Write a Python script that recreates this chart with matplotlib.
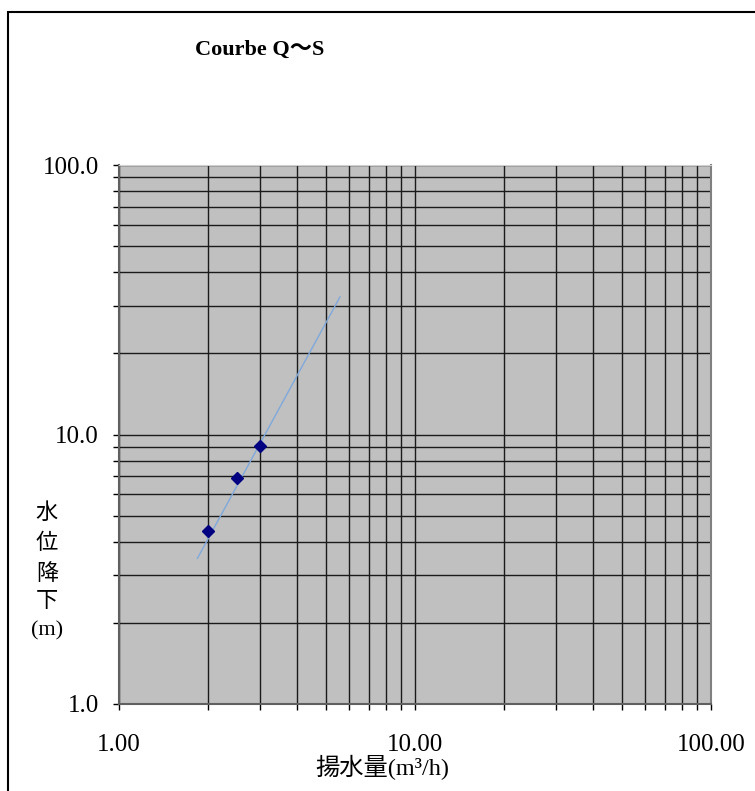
import matplotlib
matplotlib.use('Agg')
import matplotlib.pyplot as plt
from matplotlib.patches import Rectangle
from matplotlib.ticker import LogLocator, NullFormatter

# pumping rate (m3/h) vs drawdown (m)
q = [2.0, 2.5, 3.0]
s = [4.37, 6.87, 9.05]

# power trend line
trend_q = [1.84, 5.58]
trend_s = [3.47, 32.4]

x_ticks = [1, 10, 100]
x_labels = ['1.00', '10.00', '100.00']
y_ticks = [1, 10, 100]
y_labels = ['1.0', '10.0', '100.0']

serif = ['Liberation Serif', 'Noto Sans CJK JP']

fig = plt.figure(figsize=(7.55, 7.91), dpi=100)
W, H = 755, 791

# outer frame (only top and left visible in the picture)
fig.patches.append(Rectangle((8 / W, -0.1), 1.2, 1 - 12 / H + 0.1,
                             transform=fig.transFigure, fill=False,
                             edgecolor='black', linewidth=1.5))

ax = fig.add_axes([119 / W, 1 - 704 / H, (711 - 119) / W, (704 - 165) / H])
ax.set_facecolor('#c0c0c0')
ax.set_xscale('log')
ax.set_yscale('log')
ax.set_xlim(1, 100)
ax.set_ylim(1, 100)

ax.xaxis.set_minor_locator(LogLocator(base=10, subs=range(2, 10)))
ax.yaxis.set_minor_locator(LogLocator(base=10, subs=range(2, 10)))
ax.set_xticks(x_ticks)
ax.set_xticklabels(x_labels)
ax.set_yticks(y_ticks)
ax.set_yticklabels(y_labels)
ax.xaxis.set_minor_formatter(NullFormatter())
ax.yaxis.set_minor_formatter(NullFormatter())

ax.grid(True, which='both', color='#1a1a1a', linewidth=1.0)
ax.set_axisbelow(True)

ax.tick_params(which='both', direction='out', length=4.5, width=1, color='black')
ax.tick_params(axis='y', which='major', pad=10)
ax.tick_params(axis='x', which='major', pad=17)
for lab in ax.get_xticklabels() + ax.get_yticklabels():
    lab.set_family(serif)
    lab.set_fontsize(18)

for side in ['left', 'bottom']:
    ax.spines[side].set_color('#606060')
    ax.spines[side].set_linewidth(1.5)
ax.spines['top'].set_color('#d0d0d0')
ax.spines['right'].set_color('#808080')
ax.spines['right'].set_linewidth(1.5)

ax.plot(trend_q, trend_s, color='#7fa9dc', linewidth=1.0, zorder=3)
ax.plot(q, s, linestyle='none', marker='D', markersize=6,
        color='#000080', zorder=4)

fig.text(195 / W, 1 - 50 / H, 'Courbe Q～S', family=serif,
         fontweight='bold', fontsize=16, va='center', ha='left')

fig.text(382 / W, 1 - 767 / H, '揚水量(m³/h)', family=serif,
         fontsize=17.5, ha='center', va='center')

fig.text(47 / W, 1 - 572 / H, '水\n位\n降\n下\n(m)', family=serif,
         fontsize=16, ha='center', va='center', linespacing=1.62)

fig.savefig('out.png', dpi=100)
